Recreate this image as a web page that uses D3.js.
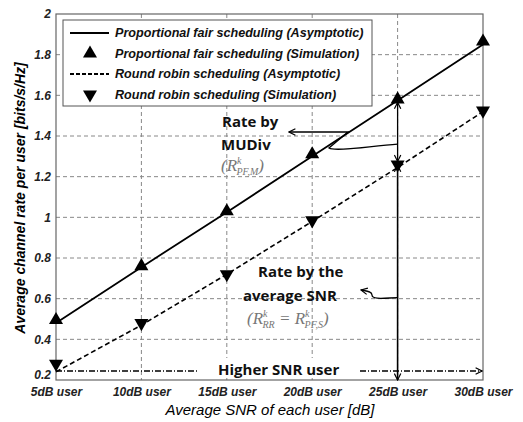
<!DOCTYPE html>
<html>
<head>
<meta charset="utf-8">
<script src="https://cdn.jsdelivr.net/npm/d3@7"></script>
<style>
  body { margin: 0; background: #fff; }
  .tick text { font-family: "Liberation Sans", Arial, sans-serif; font-style: italic; font-weight: bold; fill: #222; }
  .legend-text { font-family: "Liberation Sans", Arial, sans-serif; font-style: italic; font-weight: bold; font-size: 12.6px; fill: #111; }
  .note { font-family: "Open Sans", "Liberation Sans", sans-serif; font-weight: bold; font-size: 15px; fill: #111; }
  .math { font-family: "Liberation Serif", "DejaVu Serif", serif; font-style: italic; font-size: 17px; fill: #777; }
</style>
</head>
<body>
<div id="chart-container"></div>
<script>
// Data
const users = ["5dB user", "10dB user", "15dB user", "20dB user", "25dB user", "30dB user"];
const pfAsym = [0.48, 0.755, 1.025, 1.30, 1.575, 1.85];
const pfSim = [0.49, 0.755, 1.025, 1.305, 1.575, 1.86];
const rrAsym = [0.24, 0.47, 0.72, 0.98, 1.245, 1.52];
const rrSim = [0.285, 0.485, 0.725, 0.99, 1.265, 1.53];
const yTicks = [0.2, 0.4, 0.6, 0.8, 1, 1.2, 1.4, 1.6, 1.8, 2];
const legendLabels = [
  "Proportional fair scheduling (Asymptotic)",
  "Proportional fair scheduling (Simulation)",
  "Round robin scheduling (Asymptotic)",
  "Round robin scheduling (Simulation)"
];

const width = 523, height = 422;
const plotLeft = 56, plotRight = 483, plotTop = 14, plotBottom = 380;

const svg = d3.select("#chart-container")
  .append("svg")
  .attr("width", width)
  .attr("height", height);

const x = d3.scalePoint().domain(users).range([plotLeft, plotRight]);
const y = d3.scaleLinear().domain([0.2, 2]).range([plotBottom, plotTop]);

// arrow heads
const defs = svg.append("defs");
defs.append("marker")
  .attr("id", "arrow")
  .attr("viewBox", "0 0 10 10")
  .attr("refX", 9).attr("refY", 5)
  .attr("markerWidth", 8).attr("markerHeight", 8)
  .attr("markerUnits", "userSpaceOnUse")
  .attr("orient", "auto-start-reverse")
  .append("path")
  .attr("d", "M1,1 L9,5 L1,9")
  .attr("fill", "none")
  .attr("stroke", "#000")
  .attr("stroke-width", 1.5);

// Grid lines
svg.append("g")
  .selectAll("line")
  .data(users.slice(1, -1))
  .enter().append("line")
  .attr("x1", d => x(d)).attr("x2", d => x(d))
  .attr("y1", plotTop).attr("y2", plotBottom)
  .attr("stroke", "#888").attr("stroke-dasharray", "4,3");

svg.append("g")
  .selectAll("line")
  .data(yTicks.slice(1, -1))
  .enter().append("line")
  .attr("x1", plotLeft).attr("x2", plotRight)
  .attr("y1", d => y(d)).attr("y2", d => y(d))
  .attr("stroke", "#888").attr("stroke-dasharray", "4,3");

// Axes
const xAxis = svg.append("g")
  .attr("transform", `translate(0,${plotBottom})`)
  .call(d3.axisBottom(x).tickSize(0).tickPadding(7));
xAxis.select(".domain").remove();
xAxis.selectAll("text").style("font-size", "12px");

const yAxis = svg.append("g")
  .attr("transform", `translate(${plotLeft},0)`)
  .call(d3.axisLeft(y).tickValues(yTicks).tickSize(0).tickPadding(5).tickFormat(d3.format("")));
yAxis.select(".domain").remove();
yAxis.selectAll("text").style("font-size", "12px");
yAxis.selectAll(".tick").filter(d => d === 0.2).select("text").attr("dy", "-0.1em");

// Frame
svg.append("rect")
  .attr("x", plotLeft).attr("y", plotTop)
  .attr("width", plotRight - plotLeft).attr("height", plotBottom - plotTop)
  .attr("fill", "none").attr("stroke", "#666").attr("stroke-width", 1.2);

// Axis titles
svg.append("text")
  .attr("x", 270)
  .attr("y", 415)
  .attr("text-anchor", "middle")
  .style("font-family", "Liberation Sans, Arial, sans-serif")
  .style("font-style", "italic")
  .style("font-size", "15px")
  .text("Average SNR of each user [dB]");

svg.append("text")
  .attr("transform", "translate(25,198) rotate(-90)")
  .attr("text-anchor", "middle")
  .style("font-family", "Liberation Sans, Arial, sans-serif")
  .style("font-style", "italic")
  .style("font-weight", "bold")
  .style("font-size", "14px")
  .text("Average channel rate per user [bits/s/Hz]");

// Lines
const line = d3.line().x((d, i) => x(users[i])).y(d => y(d));

svg.append("path")
  .datum(pfAsym)
  .attr("d", line)
  .attr("fill", "none").attr("stroke", "#000").attr("stroke-width", 1.8);

svg.append("path")
  .datum(rrAsym)
  .attr("d", line)
  .attr("fill", "none").attr("stroke", "#000").attr("stroke-width", 1.6)
  .attr("stroke-dasharray", "5,3");

// Markers
const triUp = d3.symbol().type(d3.symbolTriangle).size(85);

svg.selectAll(".pf")
  .data(pfSim)
  .enter().append("path")
  .attr("class", "pf")
  .attr("d", triUp)
  .attr("transform", (d, i) => `translate(${x(users[i])},${y(d) - 1})`);

svg.selectAll(".rr")
  .data(rrSim)
  .enter().append("path")
  .attr("class", "rr")
  .attr("d", triUp)
  .attr("transform", (d, i) => `translate(${x(users[i])},${y(d) + 1}) rotate(180)`);

// Legend
const legend = svg.append("g");
legend.append("rect")
  .attr("x", 63).attr("y", 20)
  .attr("width", 309).attr("height", 86)
  .attr("fill", "#fff").attr("stroke", "#555");

legendLabels.forEach((label, i) => {
  const ly = 33 + i * 20.5;
  if (i === 0 || i === 2) {
    legend.append("line")
      .attr("x1", 70).attr("x2", 109)
      .attr("y1", ly).attr("y2", ly)
      .attr("stroke", "#000").attr("stroke-width", i === 0 ? 2 : 1.8)
      .attr("stroke-dasharray", i === 2 ? "4,2" : null);
  } else {
    legend.append("path")
      .attr("d", triUp)
      .attr("transform", `translate(90,${ly})` + (i === 3 ? " rotate(180)" : ""));
  }
  legend.append("text")
    .attr("class", "legend-text")
    .attr("x", 115).attr("y", ly + 4)
    .text(label);
});

// Annotations
const x25 = x("25dB user");

// vertical arrows at 25dB user
svg.append("line")
  .attr("x1", x25).attr("x2", x25)
  .attr("y1", y(pfSim[4]) + 2).attr("y2", y(rrSim[4]) - 2)
  .attr("stroke", "#000").attr("stroke-width", 1.3)
  .attr("marker-start", "url(#arrow)").attr("marker-end", "url(#arrow)");

svg.append("line")
  .attr("x1", x25).attr("x2", x25)
  .attr("y1", y(rrSim[4]) + 2).attr("y2", plotBottom)
  .attr("stroke", "#000").attr("stroke-width", 1.6)
  .attr("marker-start", "url(#arrow)").attr("marker-end", "url(#arrow)");

// MUDiv callout
svg.append("path")
  .attr("d", `M${x25},${y(1.36)} C370,146 335,152 329,148 L348,132 L289,132`)
  .attr("fill", "none").attr("stroke", "#000").attr("stroke-width", 1.3)
  .attr("marker-end", "url(#arrow)");

svg.append("text").attr("class", "note").attr("x", 222).attr("y", 127).text("Rate by");
svg.append("text").attr("class", "note").attr("x", 221).attr("y", 150).text("MUDiv");

const m1 = svg.append("text").attr("class", "math").attr("x", 221).attr("y", 171);
m1.append("tspan").text("(R");
m1.append("tspan").attr("dy", -7).style("font-size", "10px").text("k");
m1.append("tspan").attr("dx", -5).attr("dy", 11).style("font-size", "10px").text("PF,M");
m1.append("tspan").attr("dy", -4).text(")");

// average SNR callout
svg.append("path")
  .attr("d", `M${x25},${y(0.6) - 1} C385,298 372,300 372,295 C372,291 366,291 361,290`)
  .attr("fill", "none").attr("stroke", "#000").attr("stroke-width", 1.3)
  .attr("marker-end", "url(#arrow)");

svg.append("text").attr("class", "note").attr("x", 258).attr("y", 277).text("Rate by the");
svg.append("text").attr("class", "note").attr("x", 243).attr("y", 301).text("average SNR");

const m2 = svg.append("text").attr("class", "math").attr("x", 247).attr("y", 324);
m2.append("tspan").text("(R");
m2.append("tspan").attr("dy", -7).style("font-size", "10px").text("k");
m2.append("tspan").attr("dx", -5).attr("dy", 11).style("font-size", "10px").text("RR");
m2.append("tspan").attr("dy", -4).text(" = R");
m2.append("tspan").attr("dy", -7).style("font-size", "10px").text("k");
m2.append("tspan").attr("dx", -5).attr("dy", 11).style("font-size", "10px").text("PF,S");
m2.append("tspan").attr("dy", -4).text(")");

// Higher SNR user
svg.append("line")
  .attr("x1", plotLeft).attr("x2", 197)
  .attr("y1", 371).attr("y2", 371)
  .attr("stroke", "#000").attr("stroke-width", 1.3).attr("stroke-dasharray", "6,2,1,2");
svg.append("line")
  .attr("x1", 360).attr("x2", plotRight - 1)
  .attr("y1", 371).attr("y2", 371)
  .attr("stroke", "#000").attr("stroke-width", 1.3).attr("stroke-dasharray", "6,2,1,2")
  .attr("marker-end", "url(#arrow)");
svg.append("rect").attr("x", 214).attr("y", 358).attr("width", 132).attr("height", 18).attr("fill", "#fff");
svg.append("text").attr("class", "note").attr("x", 218).attr("y", 375).text("Higher SNR user");
</script>
</body>
</html>
